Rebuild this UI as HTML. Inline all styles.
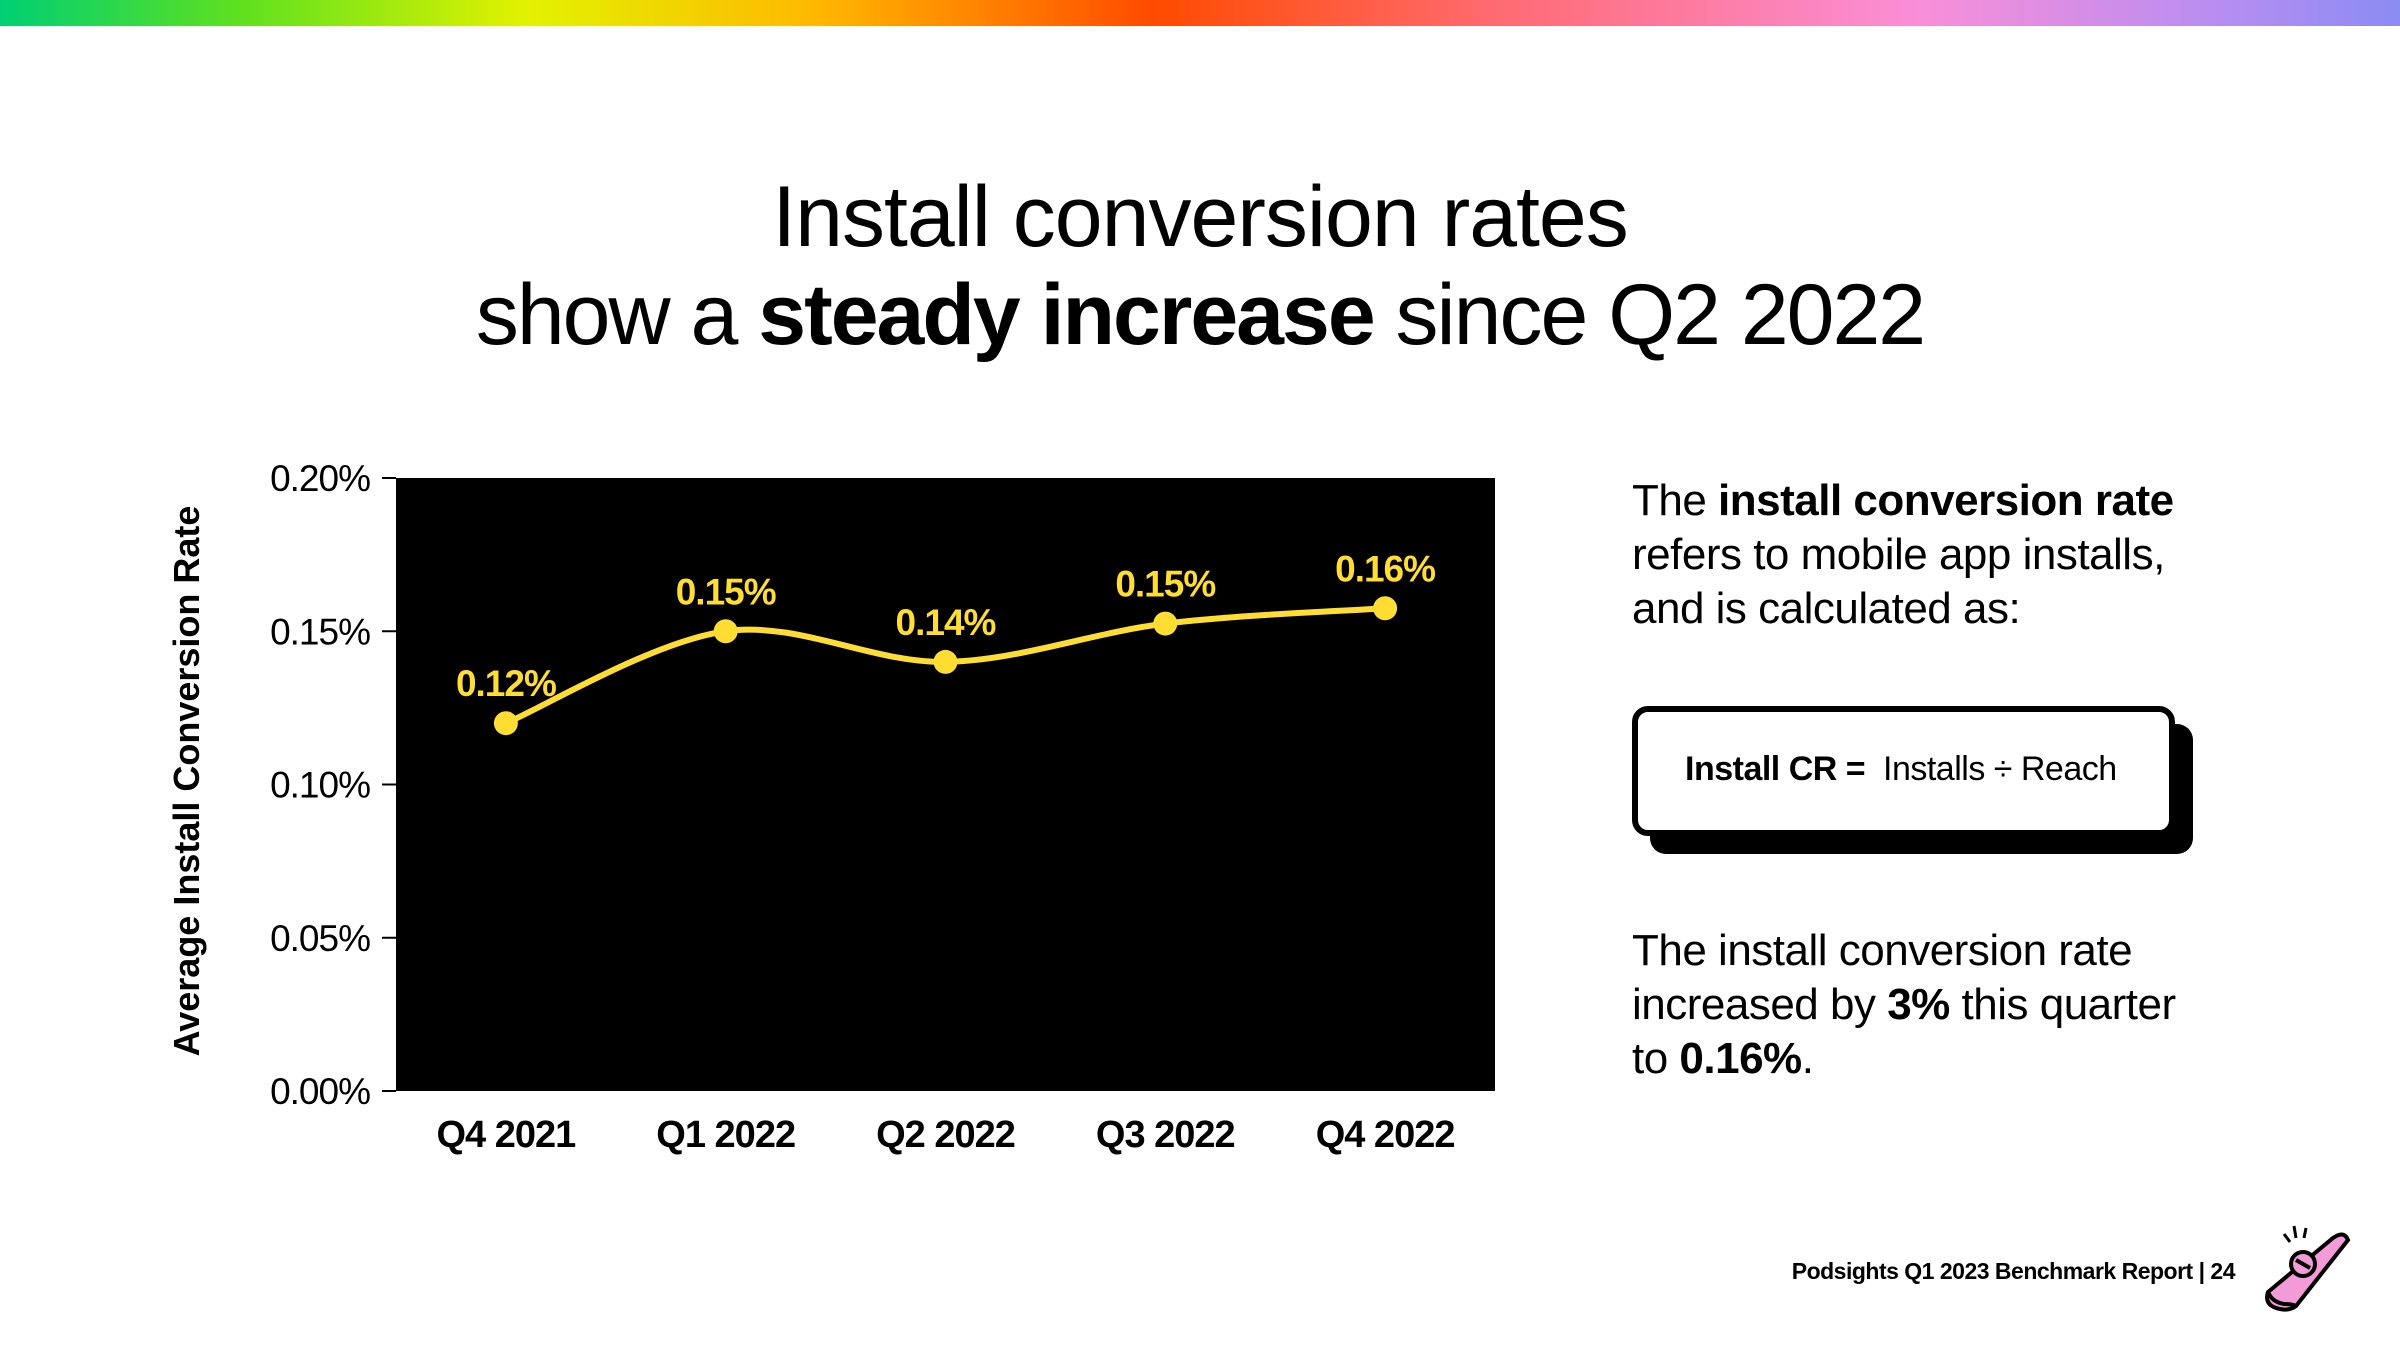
<!DOCTYPE html>
<html><head><meta charset="utf-8">
<style>
html,body{margin:0;padding:0;background:#fff;}
body{width:2400px;height:1350px;position:relative;overflow:hidden;font-family:"Liberation Sans","DejaVu Sans",sans-serif;color:#000;}
#bar{position:absolute;left:0;top:0;width:2400px;height:26px;background:linear-gradient(90deg,#00cf74 0%,#5fe020 10%,#e2f200 22%,#ffb800 34%,#ff4b00 48%,#ff6a70 62%,#f98fd8 80%,#b98ef0 92%,#8b8cf2 100%);}
.title{position:absolute;left:0;width:2400px;text-align:center;font-size:86px;letter-spacing:-2px;}
.txt{position:absolute;left:1632px;font-size:44px;line-height:54px;letter-spacing:-0.5px;}
</style></head><body>
<div id="bar"></div>
<div class="title" style="top:168px;letter-spacing:-1px">Install conversion rates</div>
<div class="title" style="top:266px">show a <b>steady increase</b> since Q2 2022</div>

<svg id="chart" width="2400" height="1350" style="position:absolute;left:0;top:0"></svg>

<div class="txt" style="top:474px">The <b>install conversion rate</b><br>refers to mobile app installs,<br>and is calculated as:</div>

<div style="position:absolute;left:1650px;top:724px;width:543px;height:130px;background:#000;border-radius:16px"></div>
<div style="position:absolute;left:1632px;top:706px;width:531px;height:118px;background:#fff;border:6px solid #000;border-radius:16px">
<div style="position:absolute;left:47px;top:38px;font-size:34px;letter-spacing:-0.5px;white-space:nowrap"><b>Install CR =</b>&nbsp; Installs ÷ Reach</div>
</div>

<div class="txt" style="top:924px">The install conversion rate<br>increased by <b>3%</b> this quarter<br>to <b>0.16%</b>.</div>

<div style="position:absolute;right:165px;top:1258px;font-size:23px;font-weight:bold;letter-spacing:-0.5px">Podsights Q1 2023 Benchmark Report | 24</div>

<svg style="position:absolute;left:2258px;top:1220px" width="100" height="95" viewBox="0 0 100 95">
<path d="M10 72 L75 18 Q86 10 90 20 L38 86 Q30 92 18 88 Q6 84 10 72Z" fill="#f39ad8" stroke="#000" stroke-width="4"/>
<path d="M10 72 Q14 82 26 84 Q34 84 38 86" fill="none" stroke="#000" stroke-width="4"/>
<circle cx="45" cy="44" r="12" fill="#f39ad8" stroke="#000" stroke-width="4"/>
<line x1="38" y1="40" x2="52" y2="48" stroke="#000" stroke-width="4"/>
<line x1="26" y1="14" x2="32" y2="22" stroke="#000" stroke-width="3"/>
<line x1="36" y1="6" x2="38" y2="18" stroke="#000" stroke-width="3"/>
<line x1="48" y1="8" x2="46" y2="18" stroke="#000" stroke-width="3"/>
</svg>

<script>
const categories = ["Q4 2021","Q1 2022","Q2 2022","Q3 2022","Q4 2022"];
const values = [0.120, 0.150, 0.140, 0.1525, 0.1575];
const valueLabels = ["0.12%","0.15%","0.14%","0.15%","0.16%"];
const yTicks = [0, 0.05, 0.10, 0.15, 0.20];
const yTickLabels = ["0.00%","0.05%","0.10%","0.15%","0.20%"];

const NS = "http://www.w3.org/2000/svg";
const svg = document.getElementById("chart");
const L = 396, R = 1495, T = 478, B = 1091;
const yMax = 0.20;
const xStep = (R - L) / categories.length;
function xPos(i){ return L + xStep * (i + 0.5); }
function yPos(v){ return B - (v / yMax) * (B - T); }
function mk(tag, attrs){ const e = document.createElementNS(NS, tag); for (const k in attrs) e.setAttribute(k, attrs[k]); svg.appendChild(e); return e; }

const bg = mk("rect", {x:L, y:T, width:R-L, height:B-T, fill:"#000"});



yTicks.forEach((t, i) => {
  const tk = mk("line", {x1:L-14, x2:L, y1:yPos(t), y2:yPos(t), stroke:"#000", "stroke-width":2});
  
  
  const lb = mk("text", {x:370, y:yPos(t)+13, "text-anchor":"end", "font-size":37, "letter-spacing":"-1", fill:"#000"});
  lb.textContent = yTickLabels[i];
  
  
});

const yt = mk("text", {x:0, y:0, transform:"translate(199,781) rotate(-90)", "text-anchor":"middle", "font-size":36, "font-weight":"bold", fill:"#000"});
yt.textContent = "Average Install Conversion Rate";



categories.forEach((c, i) => {
  const lb = mk("text", {x:xPos(i), y:1147, "text-anchor":"middle", "font-size":38, "font-weight":"bold", "letter-spacing":"-1", fill:"#000"});
  lb.textContent = c;
  
  
});

const pts = values.map((v, i) => [xPos(i), yPos(v)]);
let d = "M" + pts[0][0] + " " + pts[0][1];
for (let i = 0; i < pts.length - 1; i++) {
  const p0 = pts[Math.max(0, i-1)], p1 = pts[i], p2 = pts[i+1], p3 = pts[Math.min(pts.length-1, i+2)];
  const c1x = p1[0] + (p2[0]-p0[0])/6, c1y = p1[1] + (p2[1]-p0[1])/6;
  const c2x = p2[0] - (p3[0]-p1[0])/6, c2y = p2[1] - (p3[1]-p1[1])/6;
  d += " C" + c1x + " " + c1y + " " + c2x + " " + c2y + " " + p2[0] + " " + p2[1];
}
const line = mk("path", {d:d, fill:"none", stroke:"#ffdd33", "stroke-width":6});



pts.forEach((p, i) => {
  const c = mk("circle", {cx:p[0], cy:p[1], r:12, fill:"#ffdd33"});
  
  
  const t = mk("text", {x:p[0], y:p[1]-27, "text-anchor":"middle", "font-size":37, "font-weight":"bold", "letter-spacing":"-1", fill:"#ffdd33"});
  t.textContent = valueLabels[i];
  
  
});
</script>
</body></html>
